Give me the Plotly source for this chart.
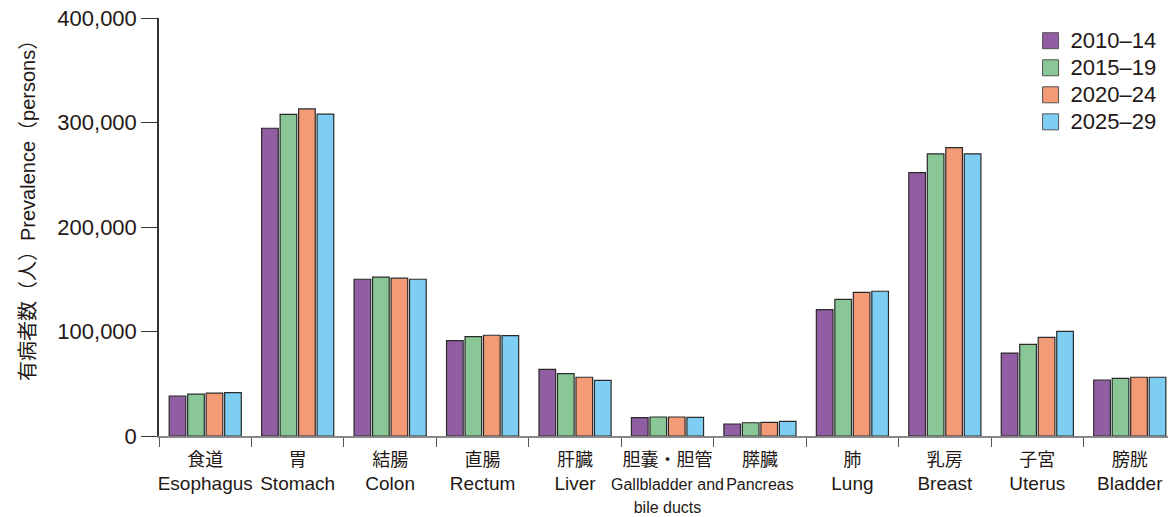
import plotly.graph_objects as go

big = "<span style='font-size:19px'>{}</span>"
small = "<span style='font-size:16px'>{}</span>"
categories = [
    "食道<br>" + big.format("Esophagus"),
    "胃<br>" + big.format("Stomach"),
    "結腸<br>" + big.format("Colon"),
    "直腸<br>" + big.format("Rectum"),
    "肝臓<br>" + big.format("Liver"),
    "胆嚢・胆管<br>" + small.format("Gallbladder and") + "<br>" + small.format("bile ducts"),
    "膵臓<br>" + small.format("Pancreas"),
    "肺<br>" + big.format("Lung"),
    "乳房<br>" + big.format("Breast"),
    "子宮<br>" + big.format("Uterus"),
    "膀胱<br>" + big.format("Bladder"),
]
series_names = ["2010–14", "2015–19", "2020–24", "2025–29"]
v2010_14 = [38300, 294500, 150000, 91200, 63800, 17500, 11500, 121000, 252000, 79400, 53600]
v2015_19 = [40000, 307800, 152000, 95000, 59600, 18200, 12700, 130800, 270000, 87700, 55200]
v2020_24 = [41000, 313000, 151000, 96400, 56200, 18200, 13100, 137500, 276000, 94400, 56200]
v2025_29 = [41500, 308000, 150000, 96000, 53300, 17800, 14000, 138500, 270000, 100200, 56200]
colors = ["#915EA3", "#89C896", "#F29B76", "#7ECEF4"]

fig = go.Figure()
for name, vals, col in zip(series_names, [v2010_14, v2015_19, v2020_24, v2025_29], colors):
    fig.add_trace(go.Bar(x=categories, y=vals, name=name,
                         marker=dict(color=col, line=dict(color="#2a2a2a", width=1.2)),
                         showlegend=False))
for name, col in zip(series_names, colors):
    fig.add_trace(go.Scatter(x=[None], y=[None], mode="markers",
                             name="<span style='font-size:22px'>" + name + "</span>",
                             marker=dict(symbol="square", size=18, color=col, line=dict(color="#555", width=1))))

font_family = "Liberation Sans, Noto Sans CJK JP, sans-serif"
fig.update_layout(
    width=1168, height=509,
    margin=dict(l=151, r=0, t=10, b=81),
    paper_bgcolor="white", plot_bgcolor="white",
    barmode="group", bargap=0.2, bargroupgap=0.1,
    font=dict(family=font_family, size=18, color="#231815"),
    legend=dict(x=0.857, y=0.99, xanchor="left", yanchor="top", font=dict(size=18.5),
                itemsizing="trace", tracegroupgap=0, bgcolor="rgba(0,0,0,0)"),
    xaxis=dict(showline=True, linecolor="#888", linewidth=1.5, ticks="outside", tickson="boundaries",
               ticklen=9, tickcolor="#555", tickfont=dict(size=18), tickangle=0, showgrid=False,
               automargin=False, ticklabelstandoff=7, ticklabeloverflow="allow"),
    yaxis=dict(range=[0, 400000], dtick=100000, tickformat=",d", showline=True, linecolor="#333", linewidth=1.5,
               ticks="outside", ticklen=16, tickcolor="#333", showgrid=False, zeroline=False,
               tickfont=dict(size=22), automargin=False, ticklabeloverflow="allow"),
    annotations=[dict(text="有病者数（人）Prevalence（persons）", textangle=-90, showarrow=False,
                      xref="paper", yref="paper", x=0, y=0.5, xanchor="center", yanchor="middle",
                      xshift=-131, yshift=21, font=dict(size=20))],
)
fig.write_html("out.html")
